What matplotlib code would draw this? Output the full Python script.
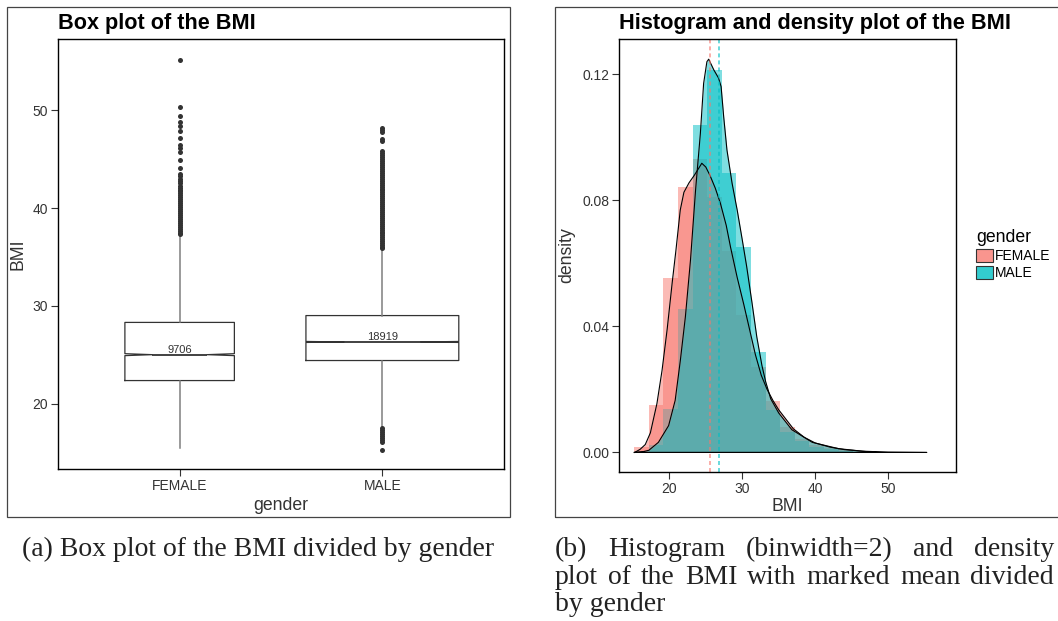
import matplotlib.pyplot as plt
from matplotlib.patches import Rectangle, Patch
import numpy as np

plt.rcParams['font.family'] = ['Liberation Sans', 'DejaVu Sans']

# ---------------- box plot summary, BMI by gender ----------------
genders = ['FEMALE', 'MALE']
counts = [9706, 18919]
q1 = [22.35, 24.4]
medians = [25.0, 26.3]
q3 = [28.3, 29.0]
whisker_lo = [15.4, 17.6]
whisker_hi = [37.2, 35.8]
notch_lo = [24.9, 26.25]
notch_hi = [25.1, 26.35]
fliers_female = [55.2, 50.3, 49.4, 48.8, 48.4, 47.9, 47.2, 46.5, 46.1, 45.7, 44.9,
                 44.1, 43.5, 43.3, 43.0, 42.8, 42.6, 42.3, 42.1, 41.9, 41.7, 41.5,
                 41.3, 41.1, 40.9, 40.7, 40.5, 40.3, 40.1, 39.9, 39.7, 39.5, 39.3,
                 39.1, 38.9, 38.7, 38.5, 38.3, 38.1, 37.9, 37.7, 37.5, 37.3]
fliers_male = [48.2, 48.0, 47.8, 47.1, 46.9, 45.8, 45.6, 45.4, 45.2, 45.0, 44.8,
               44.6, 44.4, 44.2, 44.0, 43.8, 43.6, 43.4, 43.2, 43.0, 42.8, 42.6,
               42.4, 42.2, 42.0, 41.8, 41.6, 41.4, 41.2, 41.0, 40.8, 40.6, 40.4,
               40.2, 40.0, 39.8, 39.6, 39.4, 39.2, 39.0, 38.8, 38.6, 38.4, 38.2,
               38.0, 37.8, 37.6, 37.4, 37.2, 37.0, 36.8, 36.6, 36.4, 36.2, 36.0,
               35.9, 17.5, 17.3, 17.1, 16.9, 16.7, 16.5, 16.3, 16.1, 15.2]
fliers = [fliers_female, fliers_male]

# ---------------- histogram (binwidth = 2) and density ----------------
bin_edges = [15.2, 17.2, 19.2, 21.2, 23.2, 25.2, 27.2, 29.2, 31.2, 33.2, 35.2,
             37.2, 39.2, 41.2, 43.2, 45.2, 47.2, 49.2, 51.2, 53.2, 55.2, 57.2]
hist_female = [0.0017, 0.0151, 0.0553, 0.0843, 0.0931, 0.0810, 0.0640, 0.0436,
               0.0270, 0.0162, 0.0082, 0.0043, 0.0024, 0.0014, 0.0007, 0.0003,
               0.0002, 0.0001, 0.0, 0.0, 0.00005]
hist_male = [0.0003, 0.0025, 0.0138, 0.0455, 0.1038, 0.1213, 0.0886, 0.0653,
             0.0318, 0.0135, 0.0065, 0.0035, 0.0018, 0.0011, 0.0006, 0.0003,
             0.0001, 0.0, 0.0, 0.0, 0.0]

dens_female_x = [15.25, 16.0, 16.7, 17.4, 18.3, 19.0, 19.7, 20.4, 20.9, 21.5,
                 22.0, 22.7, 23.4, 24.0, 24.45, 25.0, 25.6, 26.3, 27.0, 27.8,
                 28.4, 29.3, 30.2, 31.0, 31.8, 32.6, 33.4, 34.2, 35.0, 36.0,
                 37.0, 38.5, 40.0, 42.0, 44.0, 46.5, 50.0, 55.3]
dens_female_y = [0.0, 0.0010, 0.0025, 0.0062, 0.0155, 0.0260, 0.0390, 0.0540,
                 0.0640, 0.0769, 0.0825, 0.0855, 0.0878, 0.0900, 0.0917, 0.0905,
                 0.0877, 0.0838, 0.0790, 0.0720, 0.0650, 0.0555, 0.0470, 0.0390,
                 0.0310, 0.0245, 0.0200, 0.0165, 0.0135, 0.0105, 0.0075, 0.0048,
                 0.0030, 0.0017, 0.0009, 0.0004, 0.0001, 0.0]
dens_male_x = [15.2, 16.5, 17.2, 18.5, 19.9, 20.8, 21.5, 22.2, 22.9, 23.6, 24.25,
               24.7, 25.15, 25.4, 25.75, 26.1, 26.75, 27.1, 27.45, 27.9, 28.6,
               29.3, 30.0, 30.6, 31.3, 32.0, 32.7, 33.2, 33.9, 35.0, 36.8, 39.6,
               43.2, 48.1]
dens_male_y = [0.0, 0.0003, 0.0007, 0.0032, 0.0085, 0.0165, 0.0290, 0.0430,
               0.0610, 0.0833, 0.1010, 0.1170, 0.1239, 0.1247, 0.1230, 0.1213,
               0.1187, 0.1160, 0.1065, 0.0959, 0.0854, 0.0769, 0.0674, 0.0590,
               0.0480, 0.0365, 0.0275, 0.0225, 0.0170, 0.0125, 0.0072, 0.0032,
               0.0012, 0.0]
bmi_mean = [25.62, 26.86]

col_f = '#F8766D'
col_m = '#00BFC4'
ink = '#333333'

W, H = 1058, 621
fig = plt.figure(figsize=(W / 100, H / 100), dpi=100)


def px_axes(x0, y0, x1, y1):
    # axes from pixel box (top-left origin)
    return fig.add_axes([x0 / W, 1 - y1 / H, (x1 - x0) / W, (y1 - y0) / H])


def style_axes(ax):
    for s in ax.spines.values():
        s.set_linewidth(1.0)
        s.set_color('black')
    ax.tick_params(direction='out', length=5, width=0.8, color=ink,
                   labelsize=10, labelcolor=ink, pad=2)


# ---- left: box plot ----
ax1 = px_axes(58, 39, 504, 469)
style_axes(ax1)
widths = [0.754 * np.sqrt(n / max(counts)) for n in counts]
stats = []
for i in range(2):
    stats.append(dict(label=genders[i], med=medians[i], q1=q1[i], q3=q3[i],
                      whislo=whisker_lo[i], whishi=whisker_hi[i],
                      fliers=fliers[i], cilo=notch_lo[i], cihi=notch_hi[i]))
ax1.bxp(stats, positions=[1, 2], widths=widths, shownotches=True,
        showcaps=False,
        boxprops=dict(color=ink, linewidth=0.9),
        whiskerprops=dict(color='#7f7f7f', linewidth=1.1),
        medianprops=dict(color=ink, linewidth=1.3),
        flierprops=dict(marker='o', markersize=3.6, markerfacecolor=ink,
                        markeredgecolor='none'))
for i, n in enumerate(counts):
    ax1.text(i + 1, medians[i], str(n), ha='center', va='bottom',
             fontsize=8, color=ink)
ax1.set_xlim(0.4, 2.6)
ax1.set_ylim(13.3, 57.3)
ax1.set_yticks([20, 30, 40, 50])
ax1.set_xticks([1, 2], genders)
ax1.set_xlabel('gender', fontsize=12.7, color=ink)
ax1.set_ylabel('BMI', fontsize=12.7, color=ink)
ax1.xaxis.set_label_coords(0.5, -0.065)
ax1.yaxis.set_label_coords(-0.07, 0.5)
fig.text(58 / W, 1 - 29 / H, 'Box plot of the BMI', fontsize=15.6,
         fontweight='bold', ha='left', va='baseline')

# ---- right: histogram + density ----
ax2 = px_axes(619, 39, 956, 472)
style_axes(ax2)
left = bin_edges[:-1]
ax2.bar(left, hist_female, width=2, align='edge', color=col_f, alpha=0.5, linewidth=0)
ax2.bar(left, hist_male, width=2, align='edge', color=col_m, alpha=0.5, linewidth=0)
for xs, ys, c in [(dens_female_x, dens_female_y, col_f), (dens_male_x, dens_male_y, col_m)]:
    ax2.fill_between(xs, ys, 0, color=c, alpha=0.5, linewidth=0)
    ax2.plot(list(xs) + [xs[0]], list(ys) + [0], color='black', linewidth=0.8)
for m, c in zip(bmi_mean, [col_f, col_m]):
    ax2.axvline(m, color=c, alpha=0.75, linewidth=1.1, linestyle=(0, (2.6, 2)))
ax2.set_xlim(13.1, 59.3)
ax2.set_ylim(-0.0062, 0.1311)
ax2.set_xticks([20, 30, 40, 50])
ax2.set_yticks([0.0, 0.04, 0.08, 0.12], ['0.00', '0.04', '0.08', '0.12'])
ax2.set_xlabel('BMI', fontsize=12.7, color=ink)
ax2.set_ylabel('density', fontsize=12.7, color=ink)
ax2.xaxis.set_label_coords(0.5, -0.06)
ax2.yaxis.set_label_coords(-0.13, 0.5)
fig.text(619 / W, 1 - 28.5 / H, 'Histogram and density plot of the BMI',
         fontsize=15.7, fontweight='bold', ha='left', va='baseline')

handles = [Patch(facecolor='#F9958E', edgecolor=ink, linewidth=0.8),
           Patch(facecolor='#33CCCF', edgecolor=ink, linewidth=0.8)]
ax2.legend(handles, genders, title='gender', loc='upper left',
           bbox_to_anchor=(976 / W, 1 - 229 / H), bbox_transform=fig.transFigure,
           frameon=False, fontsize=10, title_fontsize=12.7, alignment='left',
           handlelength=1.2, handleheight=1.08, handletextpad=0.17,
           labelspacing=0.2, borderpad=0, borderaxespad=0)

# ---- sub-figure frames ----
for x0, x1 in [(7, 510), (555, 1070)]:
    fig.add_artist(Rectangle((x0 / W, 1 - 517 / H), (x1 - x0) / W, 510 / H,
                             transform=fig.transFigure, fill=False,
                             edgecolor='#444444', linewidth=0.9))

# ---- captions ----
cap = dict(family=['Liberation Serif', 'DejaVu Serif'], fontsize=20, color='#222222')
fig.text(258.5 / W, 1 - 556 / H, '(a) Box plot of the BMI divided by gender',
         ha='center', va='baseline', **cap)

renderer = fig.canvas.get_renderer()


def justified(words, x0, x1, y):
    texts = [fig.text(0, 1 - y / H, w, ha='left', va='baseline', **cap) for w in words]
    ws = [t.get_window_extent(renderer).width for t in texts]
    gap = (x1 - x0 - sum(ws)) / (len(words) - 1)
    x = x0
    for t, w in zip(texts, ws):
        t.set_x(x / W)
        x += w + gap


justified(['(b)', 'Histogram', '(binwidth=2)', 'and', 'density'], 555, 1054, 556)
justified(['plot', 'of', 'the', 'BMI', 'with', 'marked', 'mean', 'divided'], 555, 1054, 583.5)
fig.text(555 / W, 1 - 611 / H, 'by gender', ha='left', va='baseline', **cap)

fig.savefig('out.png', dpi=100)
